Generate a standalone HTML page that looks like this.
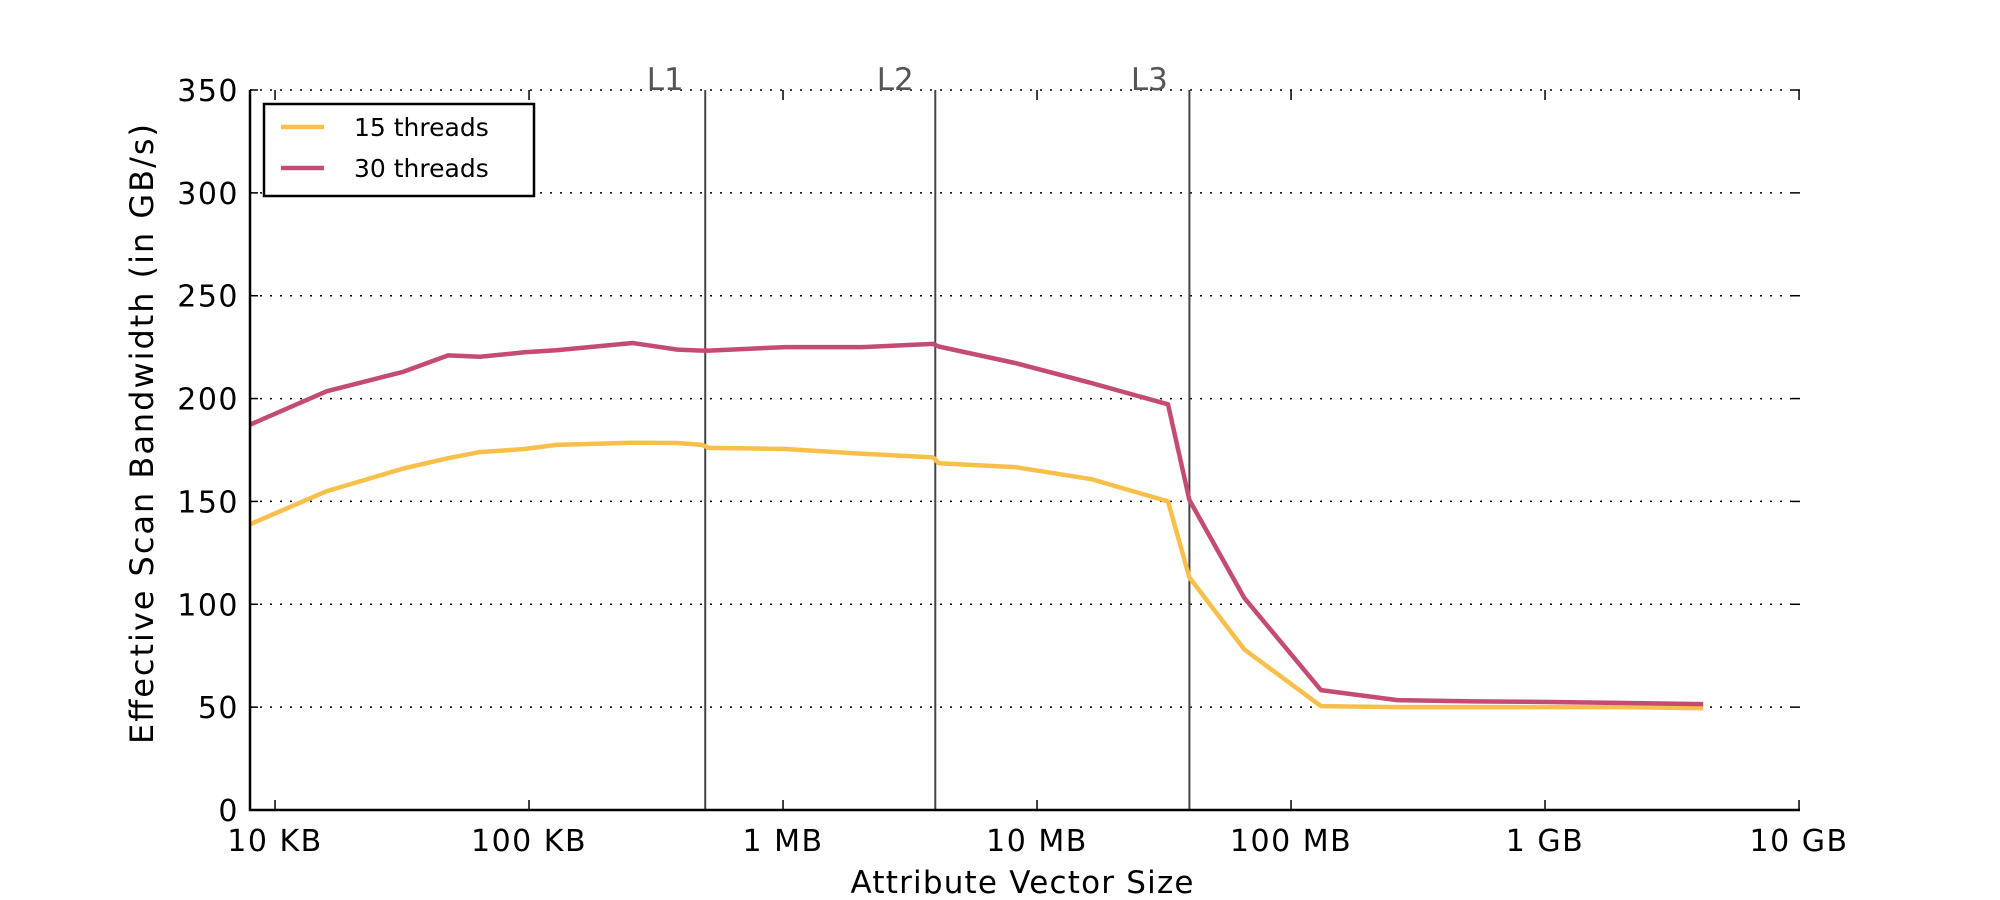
<!DOCTYPE html>
<html><head><meta charset="utf-8"><style>
html,body{margin:0;padding:0;background:#fff;}
svg{display:block;font-family:"DejaVu Sans","Liberation Sans",sans-serif;}
</style></head><body>
<svg id="chart" width="2000" height="900" viewBox="0 0 2000 900" xmlns="http://www.w3.org/2000/svg">
<rect width="2000" height="900" fill="#fff"/>
<g id="grid"></g><g id="cache"></g><g id="series"></g><g id="axes"></g><g id="legend"></g>
</svg>
<script>
// data (sizes in KB)
const sizesKB = [8,16,32,48,64,96,128,256,384,480,512,1024,2048,3900,4096,8192,16384,32768,39800,65536,131072,262144,524288,1048576,2097152,4194304];
const threads15 = [139,155,166,171,174,175.5,177.5,178.5,178.4,177.5,176,175.5,173.2,171.4,168.6,166.7,160.8,150,113,78,50.5,50,50,50,50,49.5];
const threads30 = [187.4,203.6,213,221,220.3,222.5,223.5,227,223.8,223.3,223.3,225,225,226.6,225.3,217.3,207.5,197.2,150.7,103,58.3,53.4,52.8,52.5,52,51.5];
const yTicks = [0,50,100,150,200,250,300,350];
const xTickKB = [10,100,1000,10000,100000,1000000,10000000];
const xTickLabels = ["10 KB","100 KB","1 MB","10 MB","100 MB","1 GB","10 GB"];
const cacheKB = [494,3976,39800];
const cacheLabels = ["L1","L2","L3"];
const seriesNames = ["15 threads","30 threads"];

const L=250,R=1800,T=90,B=810;
const XMIN=Math.log10(7.97), DEC=254;
const x=kb=>L+(Math.log10(kb)-XMIN)*DEC;
const y=v=>B-v*(B-T)/350;
const NS="http://www.w3.org/2000/svg";
function mk(tag,attrs,parent,text){const e=document.createElementNS(NS,tag);for(const k in attrs)e.setAttribute(k,attrs[k]);if(text!==undefined)e.textContent=text;parent.appendChild(e);return e;}
const grid=document.getElementById('grid'),axes=document.getElementById('axes'),cache=document.getElementById('cache'),series=document.getElementById('series'),legend=document.getElementById('legend');

yTicks.forEach(v=>{
  const g=mk('line',{x1:L,x2:R,y1:y(v),y2:y(v),stroke:'#000','stroke-width':1.5,'stroke-dasharray':'2,8'},grid);
  
  
  mk('line',{x1:L,x2:L+8,y1:y(v),y2:y(v),stroke:'#000','stroke-width':1.5},axes);
  mk('line',{x1:R-8,x2:R,y1:y(v),y2:y(v),stroke:'#000','stroke-width':1.5},axes);
  const t=mk('text',{x:239,y:y(v)+11,'text-anchor':'end','font-size':30,'letter-spacing':1.5,fill:'#000'},axes,String(v));
  
  
});
xTickKB.forEach((kb,i)=>{
  const xx=x(kb);
  mk('line',{x1:xx,x2:xx,y1:B,y2:B-10,stroke:'#000','stroke-width':1.5},axes);
  mk('line',{x1:xx,x2:xx,y1:T,y2:T+10,stroke:'#000','stroke-width':1.5},axes);
  const t=mk('text',{x:xx,y:851,'text-anchor':'middle','font-size':30,'letter-spacing':1.5,fill:'#000'},axes,xTickLabels[i]);
  
  
});
cacheKB.forEach((kb,i)=>{
  const xx=x(kb);
  const l=mk('line',{x1:xx,x2:xx,y1:T,y2:B,stroke:'#444','stroke-width':2},cache);
  
  
  const t=mk('text',{x:xx-40,y:90,'text-anchor':'middle','font-size':31,fill:'#555'},cache,cacheLabels[i]);
  
  
});
const colors=['#f9bf4b','#c44b72'];
[threads15,threads30].forEach((vals,si)=>{
  const d=vals.map((v,i)=>(i?'L':'M')+x(sizesKB[i]).toFixed(1)+','+y(v).toFixed(1)).join(' ');
  const p=mk('path',{d:d,fill:'none',stroke:colors[si],'stroke-width':4.5,'stroke-linejoin':'round'},series);
  
  
});
mk('line',{x1:L,x2:L,y1:T,y2:B+1,stroke:'#000','stroke-width':2.5},axes);
mk('line',{x1:L-1,x2:R,y1:B,y2:B,stroke:'#000','stroke-width':2.5},axes);
const xt=mk('text',{x:1022,y:893,'text-anchor':'middle','font-size':31,textLength:343,lengthAdjust:'spacing',fill:'#000'},axes,'Attribute Vector Size');


const yt=mk('text',{x:0,y:0,'text-anchor':'middle','font-size':32,textLength:620,lengthAdjust:'spacing',fill:'#000',transform:'translate(153,434) rotate(-90)'},axes,'Effective Scan Bandwidth (in GB/s)');


const box=mk('rect',{x:264,y:104,width:270,height:92,fill:'#fff',stroke:'#000','stroke-width':2.5},legend);


seriesNames.forEach((n,i)=>{
  const yy=127+i*41;
  const ln=mk('line',{x1:281,x2:324,y1:yy,y2:yy,stroke:colors[i],'stroke-width':4.5},legend);
  
  
  const t=mk('text',{x:354,y:yy+9,'font-size':25,fill:'#000'},legend,n);
  
  
});
</script>
</body></html>
